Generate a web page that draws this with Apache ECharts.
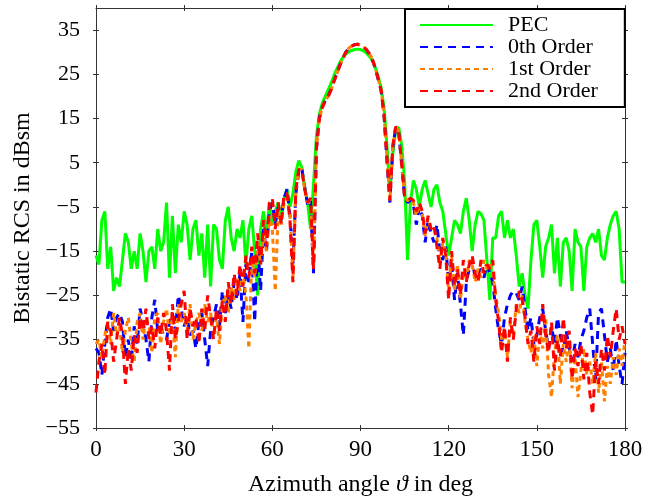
<!DOCTYPE html>
<html><head><meta charset="utf-8">
<script src="https://cdn.jsdelivr.net/npm/echarts@6/dist/echarts.min.js"></script>
<style>html,body{margin:0;padding:0;background:#fff}#c{width:658px;height:502px}</style>
</head><body><div id="c"></div>
<script>
// Azimuth angles (deg), one sample per degree 0..180
const angles = Array.from({length: 181}, (_, i) => i);
const xTicks = [0, 30, 60, 90, 120, 150, 180];
const yTicks = [-55, -45, -35, -25, -15, -5, 5, 15, 25, 35];
const seriesNames = ['PEC', '0th Order', '1st Order', '2nd Order'];

const pec = [
-16,-18,-8,-6,-19,-14,-24,-21,-23,-17,
-11,-13,-19,-15,-19,-11,-15,-22,-15,-14,
-19,-10,-15,-13,-4,-21,-7,-20,-9,-13,
-6,-9,-17,-10,-8,-16,-11,-21,-9,-23,
-9,-10,-17,-19,-8,-5,-12,-15,-10,-12,
-8,-18,-10,-7,-15,-25,-10,-6,-12,-4,
-9,-6,-4,-8,-3,-1,-5,-2,3,5.5,
4,-0.5,-4,-10,0,11,16,18.5,20,21.5,
23,24.8,26.3,27.7,28.8,29.6,30.1,30.4,30.6,30.7,
30.6,30.3,29.8,29.1,28.1,26.6,24.6,22,17.5,9,
-1.5,7,12.5,13,9,1,-17,-4,1,-1,
-5,-1,1,-2,-5,-1,0,-4,-6,-11,
-16,-12,-8,-9,-11,-6,-3,-8,-15,-9,
-6,-6.5,-8,-17,-26,-12,-12,-7,-6,-12,
-8,-12,-10,-16,-23,-20,-25,-28,-17,-9,
-8,-14,-21,-14,-12,-9,-20,-12,-23,-13,
-12,-15,-24,-10,-13,-14,-24,-14,-12,-11,
-13,-10,-16,-17,-12,-9,-7,-6,-10,-22,
-22];

const order0 = [
-37,-38,-43,-36,-30,-28,-33,-30,-29,-31,
-39,-35,-40,-32,-36,-28,-31,-35,-40,-30,
-26,-33,-32,-34,-35,-31,-29,-33,-25,-28,
-32,-30,-34,-33,-37,-31,-29,-35,-41,-33,
-30,-27,-32,-24,-29,-25,-28,-22,-26,-20,
-31,-18,-22,-15,-31,-13,-24,-10,-15,-6,
-4,-9,-5,-8,-3,-1,-7,-18,-2,3,
3.8,-0.5,-4.5,-3.5,-20,8.3,15.2,17.6,19,20.1,
21.6,23.5,25.3,27.1,28.7,30,30.9,31.4,31.7,31.8,
31.6,31.2,30.6,29.7,28.4,26.4,23.9,21.3,15.8,5.5,
-4,8.5,13,11.8,4.6,-3,-4,-3.5,-4.5,-9,
-5,-7,-13,-8,-11,-13,-9,-15,-17,-14,
-22,-18,-26,-20,-27,-34,-22,-19,-17,-21,
-20,-19,-21,-18,-20,-22,-28,-33,-36,-30,
-27,-25,-24,-24.5,-26,-23,-28,-33,-30,-36,
-34,-30,-28,-33,-37,-32,-36,-30,-34,-38,
-33,-37,-40,-36,-39,-35,-33,-30,-28,-36,
-44,-29,-28,-34,-40,-37,-42,-35,-41,-45,
-38];

const order1 = [
-36,-35,-39,-34,-31,-36,-29,-34,-32,-38,
-33,-30,-36,-40,-31,-29,-35,-30,-32,-38,
-30,-29,-36,-31,-28,-34,-30,-39,-27,-31,
-29,-33,-27,-35,-31,-29,-33,-27,-31,-29,
-34,-30,-36,-27,-25,-29,-23,-26,-21,-24,
-20,-25,-37,-17,-21,-13,-18,-11,-15,-7,
-10,-24,-6,-9,-4,-3,-7,-21,-1,3.5,
3.5,-1,-4,-4,-19,8,15,17.5,19,20,
21.5,23.5,25.2,27,28.6,30,30.9,31.4,31.7,31.8,
31.6,31.2,30.6,29.7,28.5,26.5,24,21.5,16,6,
-3.5,9,13.2,12,5,-2.8,-3.6,-3.2,-4,-7,
-4.5,-6.5,-11.5,-7.5,-10,-10,-12,-18,-13,-15,
-24,-16,-24,-18,-26,-20,-21,-17,-18,-22,
-19,-21,-17,-19,-18,-20,-25,-29,-35,-33,
-39,-31,-34,-27,-29,-25,-31,-35,-38,-34,
-41,-33,-37,-30,-43,-48,-38,-34,-45,-36,
-40,-35,-46,-39,-48,-42,-37,-43,-40,-45,
-38,-47,-40,-49,-41,-45,-39,-43,-37,-41,
-35];

const order2 = [
-47,-40,-36,-43,-31,-33,-40,-35,-30,-34,
-45,-37,-42,-34,-38,-30,-33,-28,-35,-32,
-37,-30,-34,-29,-33,-42,-27,-35,-31,-27,
-24,-35,-28,-32,-30,-36,-28,-33,-25,-30,
-35,-28,-33,-26,-31,-22,-27,-20,-25,-18,
-23,-16,-21,-14,-20,-11,-18,-8,-14,-4,
-3,-10,-4,-9,-2,-2,-8,-22,-1,3.5,
3.5,-1,-4,-3,-19,8,15,17.5,19,20,
21.5,23.5,25.2,27,28.6,30,30.9,31.4,31.7,31.8,
31.6,31.2,30.6,29.7,28.5,26.5,24,21.5,16,6,
-3.5,9,13.2,12,5,-2.5,-3.5,-3,-3.5,-6,
-4,-6,-11,-7,-10,-9,-14,-19,-12,-16,
-26,-15,-23,-19,-25,-17,-22,-18,-16,-20,
-22,-17,-20,-18,-19,-17,-26,-31,-38,-32,
-40,-30,-35,-28,-24,-26,-30,-36,-33,-40,
-32,-36,-27,-34,-38,-31,-42,-35,-39,-30,
-37,-33,-44,-37,-41,-36,-44,-38,-47,-52,
-40,-45,-37,-42,-34,-39,-33,-28,-35,-32,
-36];

const pair = arr => angles.map((a, i) => [a, arr[i]]);
const FONT = 'Liberation Serif';
const AXC = '#333';
const minus = v => v < 0 ? '\u2212' + Math.abs(v) : String(v);

const gridRect = {left: 96, right: 33, top: 8, bottom: 74};

function xAx(grid, pos, labels, inside) {
  return {
    type: 'value', gridIndex: grid, position: pos, min: 0, max: 180, interval: 30,
    axisLine: {show: !inside, onZero: false, lineStyle: {color: AXC, width: 1}},
    axisTick: {show: true, inside: inside, length: 3, lineStyle: {color: AXC, width: 1}},
    axisLabel: {show: labels, color: '#000', fontFamily: FONT, fontSize: 23, margin: 10},
    splitLine: {show: false},
    name: labels ? '{a|Azimuth angle }{i|\u03D1}{a| in deg}' : '',
    nameLocation: 'middle', nameGap: 45,
    nameTextStyle: {rich: {a: {fontFamily: FONT, fontSize: 24, color: '#000'}, i: {fontFamily: FONT, fontSize: 24, fontStyle: 'italic', color: '#000'}}}
  };
}
function yAx(grid, pos, labels, inside) {
  return {
    type: 'value', gridIndex: grid, position: pos, min: -55, max: 40,
    axisLine: {show: !inside, onZero: false, lineStyle: {color: AXC, width: 1}},
    axisTick: {show: true, inside: inside, length: 3, customValues: yTicks, lineStyle: {color: AXC, width: 1}},
    axisLabel: {show: labels, customValues: yTicks, formatter: minus, color: '#000', fontFamily: FONT, fontSize: 22, margin: 16},
    splitLine: {show: false},
    name: labels ? 'Bistatic RCS in dBsm' : '',
    nameLocation: 'middle', nameGap: 57,
    nameTextStyle: {fontFamily: FONT, fontSize: 24, color: '#000'}
  };
}

const colors = ['#00ff00', '#0000ff', '#ff8000', '#ff0000'];
const dashes = ['solid', [8, 6], [5, 4], [8, 6]];
const datas = [pec, order0, order1, order2];

const chart = echarts.init(document.getElementById('c'), null, {renderer: 'canvas'});
chart.setOption({
  animation: false,
  backgroundColor: '#fff',
  grid: [Object.assign({}, gridRect), Object.assign({}, gridRect)],
  xAxis: [xAx(0, 'bottom', true, false), xAx(0, 'top', false, false), xAx(1, 'bottom', false, true), xAx(1, 'top', false, true)],
  yAxis: [yAx(0, 'left', true, false), yAx(0, 'right', false, false), yAx(1, 'left', false, true), yAx(1, 'right', false, true)],
  legend: {
    orient: 'vertical', left: 405, top: 9,
    padding: [5, 27, 5, 14], itemGap: 0, itemWidth: 73, itemHeight: 14,
    backgroundColor: '#fff', borderColor: '#000', borderWidth: 2,
    itemStyle: {opacity: 0},
    textStyle: {fontFamily: FONT, fontSize: 22, color: '#000', lineHeight: 18, padding: [0, 0, 0, 10]},
    data: seriesNames
  },
  series: seriesNames.map((n, k) => ({
    name: n, type: 'line', xAxisIndex: 0, yAxisIndex: 0,
    data: pair(datas[k]), symbol: 'none', showSymbol: false,
    lineStyle: {color: colors[k], width: 3, type: dashes[k]},
    itemStyle: {color: colors[k]},
    z: 2 + k
  }))
});
</script></body></html>
